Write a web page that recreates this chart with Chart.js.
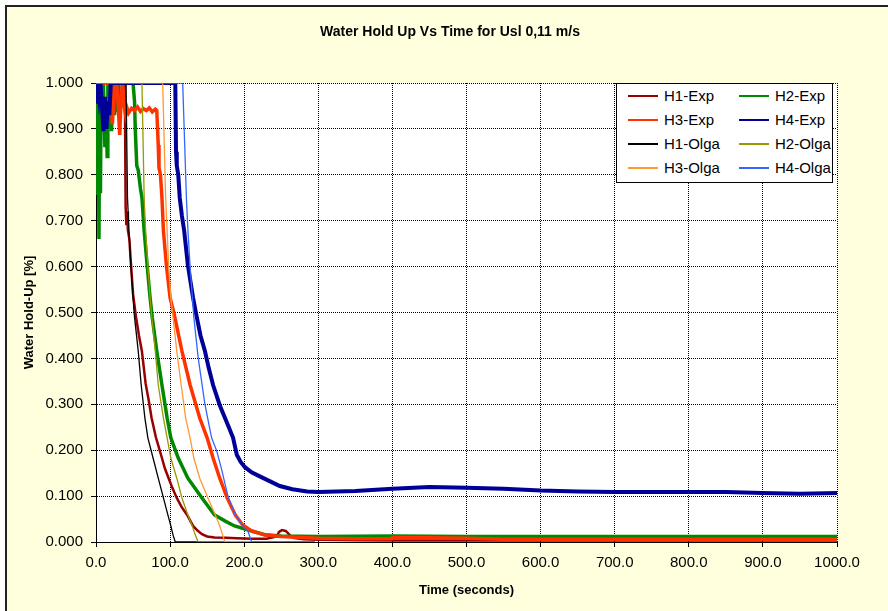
<!DOCTYPE html>
<html lang="en">
<head>
<meta charset="UTF-8">
<title>Water Hold Up Vs Time</title>
<script src="https://cdn.jsdelivr.net/npm/chart.js"></script>
<style>
    html, body { margin: 0; padding: 0; background: #fff; }
    .wrap { position: relative; width: 888px; height: 611px; font-family: "Liberation Sans", Arial, sans-serif; }
    .title {
        position: absolute; left: 0; top: 23px; width: 900px; text-align: center;
        font-size: 14px; font-weight: bold; color: #000;
    }
    .legend {
        position: absolute; left: 616px; top: 83px; width: 215px; height: 98px;
        border: 1px solid #000; background: #fff; font-size: 15px; color: #000;
    }
    .item { position: absolute; height: 18px; line-height: 18px; }
    .item span.swatch { position: absolute; left: 0; top: 8px; width: 30px; height: 0; border-top: 2px solid; }
    .item span.label { position: absolute; left: 36px; top: 0; white-space: nowrap; }
</style>
</head>
<body>
<div class="wrap">
    <canvas id="chart" width="888" height="611"></canvas>
    <div class="title">Water Hold Up Vs Time for Usl 0,11 m/s</div>
    <div class="legend" id="legend"></div>
</div>

<script>
// time (s) / hold-up values
const h1ExpT = [0, 38, 39, 40, 41, 42, 43, 45, 47, 50, 54, 58, 62, 67, 71, 75, 81, 85, 89, 93, 98, 103, 109, 116, 123, 131, 137, 143, 150, 160, 175, 190, 210, 230, 244, 247, 251, 256, 261, 266, 280, 300, 350, 400, 500, 600, 700, 800, 900, 1000];
const h1ExpV = [1.0, 1.0, 0.97, 0.73, 0.69, 0.72, 0.68, 0.66, 0.61, 0.54, 0.49, 0.45, 0.415, 0.345, 0.31, 0.27, 0.227, 0.205, 0.183, 0.16, 0.139, 0.118, 0.096, 0.075, 0.059, 0.035, 0.025, 0.017, 0.012, 0.010, 0.009, 0.008, 0.007, 0.007, 0.012, 0.022, 0.026, 0.024, 0.016, 0.009, 0.006, 0.005, 0.004, 0.003, 0.003, 0.003, 0.003, 0.003, 0.003, 0.003];

const h2ExpT = [0, 1, 2, 3, 4, 5, 6, 7, 8, 10, 12, 14, 15, 16, 18, 20, 21, 22, 23, 25, 28, 30, 31, 33, 50, 52, 53, 55, 57, 60, 62, 65, 69, 73, 76, 82, 89, 96, 101, 111, 124, 143, 160, 175, 187, 210, 228, 250, 300, 400, 500, 600, 700, 800, 900, 1000];
const h2ExpV = [0.76, 1.0, 0.8, 1.0, 0.66, 0.98, 0.76, 1.0, 0.92, 1.0, 0.86, 0.95, 0.84, 1.0, 0.9, 1.0, 0.895, 0.97, 1.0, 0.93, 1.0, 0.94, 1.0, 1.0, 1.0, 0.96, 0.9, 0.82, 0.81, 0.77, 0.75, 0.678, 0.603, 0.532, 0.488, 0.416, 0.342, 0.27, 0.227, 0.183, 0.139, 0.096, 0.059, 0.045, 0.035, 0.024, 0.016, 0.013, 0.012, 0.013, 0.012, 0.012, 0.012, 0.012, 0.012, 0.012];

const h3ExpT = [0, 20, 22, 24, 26, 28, 30, 32, 34, 36, 38, 40, 42, 44, 48, 52, 56, 60, 64, 68, 72, 76, 80, 82, 84, 85, 87, 89, 91, 95, 100, 105, 116, 127, 140, 150, 158, 167, 177, 188, 198, 210, 228, 250, 275, 300, 350, 399, 400, 450, 500, 550, 600, 700, 800, 900, 1000];
const h3ExpV = [1.0, 1.0, 0.91, 0.96, 1.0, 1.0, 0.95, 0.887, 0.97, 1.0, 0.95, 0.93, 0.945, 0.935, 0.945, 0.94, 0.948, 0.938, 0.944, 0.94, 0.946, 0.937, 0.943, 0.94, 0.865, 0.815, 0.8, 0.75, 0.678, 0.603, 0.532, 0.5, 0.416, 0.342, 0.27, 0.227, 0.183, 0.139, 0.096, 0.059, 0.037, 0.024, 0.015, 0.012, 0.01, 0.008, 0.007, 0.007, 0.01, 0.009, 0.008, 0.006, 0.006, 0.006, 0.006, 0.006, 0.006];

const h4ExpT = [0, 1, 2, 4, 6, 8, 10, 12, 14, 16, 18, 20, 107, 108, 109, 111, 113, 116, 119, 124, 131, 136, 141, 147, 152, 158, 167, 178, 185, 190, 195, 201, 210, 221, 235, 248, 265, 285, 300, 350, 400, 450, 500, 550, 600, 650, 700, 750, 800, 850, 900, 950, 1000];
const h4ExpV = [1.0, 0.955, 1.0, 0.97, 1.0, 0.95, 0.895, 0.97, 0.9, 0.96, 0.93, 1.0, 1.0, 0.85, 0.82, 0.8, 0.75, 0.71, 0.678, 0.603, 0.532, 0.49, 0.45, 0.416, 0.38, 0.342, 0.298, 0.255, 0.227, 0.19, 0.175, 0.163, 0.152, 0.143, 0.132, 0.122, 0.115, 0.11, 0.109, 0.111, 0.116, 0.12, 0.118, 0.116, 0.112, 0.11, 0.109, 0.109, 0.109, 0.109, 0.107, 0.105, 0.107];

const h1OlgaT = [0, 40.5, 42.5, 44.5, 47, 50, 52, 57, 61, 66, 70, 77, 84, 91, 97, 101, 104, 107, 295];
const h1OlgaV = [1, 1, 0.75, 0.678, 0.603, 0.532, 0.49, 0.416, 0.342, 0.27, 0.227, 0.183, 0.139, 0.096, 0.059, 0.035, 0.015, 0, 0];

const h2OlgaT = [0, 62, 65, 67, 70, 73, 75, 80, 84, 91, 96, 101, 109, 116, 124, 130, 134, 138, 295];
const h2OlgaV = [1, 1, 0.75, 0.678, 0.603, 0.532, 0.495, 0.416, 0.342, 0.27, 0.227, 0.183, 0.139, 0.096, 0.059, 0.035, 0.015, 0, 0];

const h3OlgaT = [0, 90, 94, 96, 98, 101, 104, 109, 115, 121, 127, 132, 140, 151, 161, 167, 171, 174, 295];
const h3OlgaV = [1, 1, 0.75, 0.678, 0.603, 0.532, 0.49, 0.416, 0.342, 0.27, 0.227, 0.183, 0.139, 0.096, 0.059, 0.035, 0.015, 0, 0];

const h4OlgaT = [0, 117, 122, 124, 127, 132, 138, 147, 156, 163, 170, 178, 188, 198, 205, 210, 295];
const h4OlgaV = [1, 1, 0.75, 0.68, 0.6, 0.49, 0.4, 0.3, 0.227, 0.198, 0.155, 0.1, 0.059, 0.035, 0.024, 0, 0];

const seriesNames = ['H1-Exp', 'H2-Exp', 'H3-Exp', 'H4-Exp', 'H1-Olga', 'H2-Olga', 'H3-Olga', 'H4-Olga'];
const seriesColors = ['#990000', '#008800', '#FF3300', '#000099', '#000000', '#999900', '#FF9933', '#3366FF'];
const seriesWidths = [2.5, 3.5, 3.5, 4, 1.3, 1.3, 1.3, 1.3];

const xTicks = [0, 100, 200, 300, 400, 500, 600, 700, 800, 900, 1000];
const yTicks = [0, 0.1, 0.2, 0.3, 0.4, 0.5, 0.6, 0.7, 0.8, 0.9, 1.0];

const seriesData = [
    [h1ExpT, h1ExpV], [h2ExpT, h2ExpV], [h3ExpT, h3ExpV], [h4ExpT, h4ExpV],
    [h1OlgaT, h1OlgaV], [h2OlgaT, h2OlgaV], [h3OlgaT, h3OlgaV], [h4OlgaT, h4OlgaV]
];

const datasets = seriesData.map(([t, v], i) => ({
    label: seriesNames[i],
    data: t.map((x, k) => ({ x: x, y: v[k] })),
    borderColor: seriesColors[i],
    borderWidth: seriesWidths[i],
    pointRadius: 0,
    fill: false,
    tension: 0,
    order: 7 - i // later series on top, like Excel
}));

// legend in two columns
const legend = document.getElementById('legend');
seriesNames.forEach((name, i) => {
    const row = Math.floor(i / 2), col = i % 2;
    const item = document.createElement('div');
    item.className = 'item';
    item.style.left = (col === 0 ? 11 : 122) + 'px';
    item.style.top = (3 + row * 24) + 'px';
    item.innerHTML = '<span class="swatch" style="border-color:' + seriesColors[i] + '"></span><span class="label">' + name + '</span>';
    legend.appendChild(item);
});

const backdrop = {
    id: 'backdrop',
    beforeDraw(chart) {
        const { ctx, chartArea: a } = chart;
        ctx.save();
        ctx.fillStyle = '#ffffff';
        ctx.fillRect(0, 0, chart.width, chart.height);
        ctx.fillStyle = '#FFFFDD';
        ctx.fillRect(6, 6, chart.width - 6, chart.height - 6);
        ctx.fillStyle = '#222222';
        ctx.fillRect(5, 5, chart.width - 5, 2);
        ctx.fillRect(5, 5, 2, chart.height - 5);
        ctx.fillStyle = '#ffffff';
        ctx.fillRect(a.left, a.top, a.right - a.left, a.bottom - a.top);
        ctx.restore();
    }
};

const font = { family: '"Liberation Sans", Arial, sans-serif' };

new Chart(document.getElementById('chart').getContext('2d'), {
    type: 'line',
    data: { datasets: datasets },
    options: {
        responsive: false,
        animation: false,
        layout: { padding: { top: 83, right: 51, left: 0, bottom: 0 } },
        plugins: { legend: { display: false }, tooltip: { enabled: false } },
        scales: {
            x: {
                type: 'linear',
                min: 0, max: 1000,
                afterFit: (s) => { s.height = 69; },
                afterBuildTicks: (s) => { s.ticks = xTicks.map(v => ({ value: v })); },
                ticks: {
                    color: '#000', padding: 7,
                    font: { ...font, size: 15 },
                    callback: (v) => Number(v).toFixed(1)
                },
                grid: { color: '#000', tickLength: 5, tickColor: '#000' },
                border: { color: '#000', width: 1, dash: [1, 1] },
                title: {
                    display: true, text: 'Time (seconds)', color: '#000',
                    font: { ...font, size: 13, weight: 'bold' },
                    padding: { top: 0, bottom: 13 }
                }
            },
            y: {
                min: 0, max: 1,
                afterFit: (s) => { s.width = 96; },
                afterBuildTicks: (s) => { s.ticks = yTicks.map(v => ({ value: v })); },
                ticks: {
                    color: '#000', padding: 8,
                    font: { ...font, size: 15 },
                    callback: (v) => Number(v).toFixed(3)
                },
                grid: { color: '#000', tickLength: 5, tickColor: '#000' },
                border: { color: '#000', width: 1, dash: [1, 1] },
                title: {
                    display: true, text: 'Water Hold-Up [%]', color: '#000',
                    font: { ...font, size: 13, weight: 'bold' },
                    padding: { top: 22, bottom: 0 }
                }
            }
        }
    },
    plugins: [backdrop]
});
</script>
</body>
</html>
